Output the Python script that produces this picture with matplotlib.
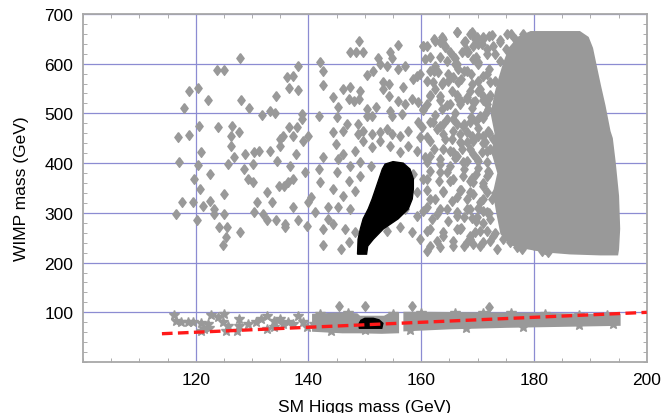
import matplotlib
matplotlib.use('Agg')
import matplotlib.pyplot as plt
from matplotlib.ticker import MultipleLocator
from matplotlib.patches import Polygon

plt.rcParams['font.family'] = ['Liberation Sans', 'DejaVu Sans']

GRAY = '#999999'

# ---- data (SM Higgs mass, WIMP mass) in GeV ----
# scattered heavy-WIMP points (diamonds)
diamonds_left = [
    (116.8,452),(117,402),(118,511),(118.8,545),(118.8,457),(120.4,551),(120.5,475),(120.9,422),
    (120.4,396),(119.7,368),(120.7,348),(122.1,527),(122.6,378),(123.7,587),(123.9,473),(125.1,587),
    (125.1,338),(126.2,455),(126.5,475),(127.8,611),(128,527),(126.2,435),(125.7,398),(126.7,412),
    (127.6,462),(129.4,511),(128.5,388),(129.2,368),(128.8,418),(130.3,422),(130.1,398),(130.1,362),
    (131.2,425),(131.7,497),(133.1,505),(134,501),(134.3,535),(133.1,425),(132.7,342),(134.5,405),
    (135,449),(135.4,455),(135,435),(134.7,354),(135.6,354),(136.3,362),(136.1,573),(136.6,551),
    (137.3,575),(138.2,596),(138.2,547),(136.5,473),(137.3,455),(138,473),(137.7,418),(138.9,499),
    (138.9,489),(139.1,445),(136.8,394),(137.3,368),(139.3,382),(140,455),(141.8,495),(142,603),
    (142.6,585),(142.5,557),(141.8,388),(142,362),(140.4,332),(142.5,412),
    (116.5,298),(117.5,322),(119.6,322),(120.2,286),(121.2,314),(122.6,324),(123.2,308),(123.2,298),
    (125,298),(124.1,271),(125.5,271),(125.3,251),(124.8,235),(127.8,261),(130.4,302),(130.8,322),
    (131.9,298),(132.7,286),(133.6,322),(134.2,286),(135.8,278),(135.9,271),(137.3,312),(138.2,286),
    (139.8,274),(140,322),(141.2,302),(142.5,235),(142.5,267),(143.5,312),(143.4,288),
]
diamonds_mid = [
    (149,646),(147.4,624),(148.5,624),(149.7,624),(152.4,612),(154.5,624),(154.9,612),(155.9,638),
    (152.7,600),(154,596),(155.8,589),(157.2,596),(150.3,577),(151.5,585),(153.3,563),(154.2,559),
    (156.8,553),(159.3,575),(159.8,579),(158.6,569),(160.4,636),(161.1,636),(160.7,610),(161.6,585),
    (163,583),(162.5,646),(163.4,644),(163.9,650),(164.2,636),(166.4,664),(167.8,646),(169,664),
    (169.9,654),(171,650),(165.1,624),(167.3,624),(168.3,624),(164.6,606),(166,600),(162.1,563),
    (163.7,559),(164.8,565),(166.5,589),(168.1,585),(169.2,610),(170.1,604),(171.7,630),(172.7,636),
    (174,644),(175.2,660),(176.6,650),(178,660),(146.2,549),(147.4,553),(144.4,533),(145.3,513),
    (147.1,529),(148,525),(149,529),(149.2,545),(150.3,509),(151.9,513),(154.2,535),(153.3,549),
    (155.9,525),(157.2,519),(158.4,529),(159.5,523),(160.4,509),(161.6,535),(163.4,535),(163.7,509),
    (165.1,519),(166.5,529),(168.1,533),(169.6,525),(171,535),(145.1,493),(146.9,479),(148.8,479),
    (150.4,495),(151.3,495),(154.5,505),(154.9,495),(154,469),(156.6,499),(159.5,483),(160.2,473),
    (162.1,483),(163.4,475),(164.6,489),(166.4,479),(167.4,475),(168.7,483),(170.4,495),(171.9,509),
    (144.4,463),(146.2,465),(148.8,459),(149.7,465),(151.3,459),(152.7,463),(154.9,459),(156.3,455),
    (157.7,465),(159.8,453),(161.6,445),(163.9,459),(165.5,449),(166.9,459),(168.1,443),(169.2,445),
    (171,455),(172.7,449),(144.8,439),(146.2,418),(148.3,425),(149.7,445),(151.3,433),(152.7,445),
    (154.5,435),(156.3,422),(157.7,435),(159.3,425),(161.6,414),(163.9,429),(165.7,422),(167.3,429),
    (169.2,418),(171.7,425),(145.3,408),(147.4,394),(149.2,402),(151,394),(161.1,402),(163.4,398),
    (165.1,394),(167.4,402),(169.9,408),(171.7,402),(145.1,382),(147.1,364),(149.2,374),(158.6,378),
    (161.1,368),(163.4,382),(165.1,364),(167.4,374),(169.2,362),(171.7,374),(144.4,348),(146.2,334),
    (148.3,344),(159.3,342),(161.6,328),(163.9,344),(166.4,332),(168.7,342),(171,328),
]
diamonds_low = [
    (145.3,312),(147.4,308),(144.4,278),(146.5,268),(148.3,262),(145.7,227),(147.1,241),
    (157.2,308),(159.3,294),(161.1,312),(162.8,298),(164.6,308),(166.4,294),(168.1,308),(169.9,292),
    (171.7,302),(154,264),(156.3,272),(158.4,262),(159.8,247),(161.6,268),(163.9,253),(166.4,268),
    (168.7,253),(170.4,264),(172.7,253),(174.5,247),(161.1,223),(163.4,231),(165.7,233),(168.1,241),
    (170.4,233),(173.5,227),(175.8,241),(177,231),(177.9,227),(181.4,223),(182.5,221),
]
diamonds_160_173 = [
    (162.2,650),(163.6,653),(166.3,663),(168.6,660),(169.5,650),(171,653),(172.5,657),(160.4,636),
    (164.2,633),(167.5,643),(169.2,636),(170.7,640),(161.6,613),(163.3,613),(165.7,616),(168.1,623),
    (169.8,613),(171.6,620),(166.3,600),(162.5,596),(162.2,586),(164.8,579),(165.7,573),(167.5,586),
    (168.9,579),(171.6,579),(161,566),(163.9,563),(166.6,563),(170.1,566),(172.2,563),(162.5,549),
    (165.4,546),(168.6,546),(170.4,549),(161.6,536),(163.3,526),(166.3,536),(168.1,529),(171,526),
    (172.2,536),(161,519),(164.5,516),(166.9,519),(169.2,522),(171.6,519),(160.4,506),(162.5,496),
    (165.7,489),(168.9,492),(171.3,499),(161.6,482),(163.9,479),(167.5,479),(169.8,485),(162.8,469),
    (165.7,465),(168.1,462),(170.1,455),(171.9,465),(161,452),(164.2,449),(166.9,442),(169.2,449),
    (171.3,442),(162.2,428),(165.1,425),(168.6,428),(170.7,422),(172.2,428),(160.7,412),(163.3,408),
    (166.3,415),(168.1,405),(170.1,405),(161.6,385),(164.5,382),(167.5,388),(169.8,378),(171.9,385),
    (160.4,368),(163.1,365),(165.7,368),(168.6,365),(171,361),(161,345),(163.9,341),(166.9,345),
    (169.2,338),(171.6,341),(162.5,328),(165.4,324),(168.1,328),(170.4,321),(172.5,328),(160.4,304),
    (163.3,308),(166.3,301),(168.6,308),(171,304),(161.9,288),(164.8,284),(167.5,291),(169.8,284),
    (172.2,288),(161,264),(163.9,261),(166.9,268),(169.5,261),(171.6,264),(162.8,244),(165.7,244),
    (168.6,247),(171,241),(161.6,234),(167.5,234),(169.2,237),(172.2,244),
]
diamonds_dense_edge = [
    (172,655),(174,648),(176,660),(177,640),(175,630),(173,620),(170,640),(168,630),(166,612),
    (170,600),(172,590),(174,605),(176,595),(177,580),(175,570),(173,565),(171,575),(169,560),(167,570),
    (170,545),(172,530),(174,540),(176,550),(177,520),(175,510),(173,500),(171,490),(169,510),(167,525),
    (166,500),(176,490),(170,470),(172,460),(174,475),(176,465),(177,440),(175,430),(173,420),(171,440),
    (169,455),(167,440),(166,410),(176,410),(170,390),(172,380),(174,395),(176,385),(177,360),(175,350),
    (173,340),(171,355),(169,370),(167,345),(176,330),(178,320),(170,310),(172,300),(174,315),(176,305),
    (177,280),(175,270),(173,260),(171,280),(169,290),(167,270),(176,250),(178,240),(180,235),(182,228),
    (179,260),(181,250),
]
diamonds_above_band = [(145.5,112),(150,112),(158.4,112),(172,111)]

# outline of the fully-covered heavy-WIMP region
dense_core_x = [179.5,188,189.3,190,190.5,191.4,192.2,193.1,193.5,194,194.6,194.8,194.6,194.5,
                191.8,186.4,182,179,176,174.5,173.8,173.2,174,173,173.5,172.8,173.5,174.2,175,176,177.5]
dense_core_y = [660,660,650,630,603,555,515,463,449,402,334,268,227,220,
                220,222,226,232,240,260,300,340,380,420,460,500,540,570,600,630,650]

# light-WIMP points (stars)
stars_sparse = [
    (116.1,95),(116.5,82),(117.3,80),(118.6,80),(119.6,80),(120.9,78),(121.4,66),(122.3,68),
    (122.7,95),(123.9,90),(125,97),(124.8,80),(125.8,72),(125.3,62),(127.6,86),(127.6,72),
    (127.4,62),(129.2,76),(130.6,80),(131.5,86),(132.7,93),(133.8,82),(135,86),(135.4,76),
    (136.3,80),(137.3,76),(138.2,93),(139.1,80),(139.8,70),(140.9,76),(142.1,86),(143.4,80),
    (144.4,72),(132.7,66),(133.8,70),(122.1,76),(120.9,62),
    (142,97),(147,98),(155,97),(160,99),(166,99),(171,98),(176,98),(182,97),(188,95),(193,94),
    (144,62),(150,64),(158,65),(168,69),(178,71),(188,74),(194,76),
]
band_a_x = [141,146,148.5,149,153.5,154.5,155.7,155.7,153,149,146,141]
band_a_y = [93,96,94,89,89,95,96,62,61,62,62,65]
band_b_x = [157.2,160,170,180,190,195,195,185,175,165,157.2]
band_b_y = [97,97,96,95,93,92,77,75,73,70,66]

# allowed regions (black)
black_big_x = [148.7,148.8,149.2,149.7,150.6,151.3,151.9,152.5,153.1,153.6,155,156.8,158,158.6,158.6,
               158.4,157.7,155.9,153.3,151.5,150.5,150.3]
black_big_y = [217,247,268,288,308,328,348,368,388,398,403,400,388,368,348,328,308,288,268,247,233,217]
black_small_x = [149,153,153.2,152.5,151.5,150,149.3,149]
black_small_y = [68,68,78,85,88,88,84,78]

# m_WIMP = m_H / 2 line
line_x = [114, 200]
line_y = [57, 100]

# ---- figure ----
fig = plt.figure(figsize=(6.64, 4.14), dpi=100)
ax = fig.add_axes([0.125, 0.123, 0.849, 0.841])
ax.set_xlim(100, 200)
ax.set_ylim(0, 700)

ax.set_xticks([120, 140, 160, 180, 200])
ax.set_yticks([100, 200, 300, 400, 500, 600, 700])
ax.xaxis.set_minor_locator(MultipleLocator(5))
ax.yaxis.set_minor_locator(MultipleLocator(20))
ax.grid(True, which='major', color='#8c8cd2', linewidth=0.9, zorder=0)
ax.set_axisbelow(True)
ax.tick_params(which='both', direction='in', top=True, right=True, color='#a0a0a0',
               labelsize=12.5, pad=7)
ax.tick_params(which='major', length=0)
ax.tick_params(which='minor', length=3)
for s in ax.spines.values():
    s.set_color('#a8a8a8')
    s.set_linewidth(1.3)

diamond = [(0, 1), (0.75, 0), (0, -1), (-0.75, 0), (0, 1)]
mk = dict(marker=diamond, ms=7, color=GRAY, linestyle='none', zorder=2)
for pts in (diamonds_left, diamonds_mid, diamonds_low, diamonds_160_173, diamonds_dense_edge,
            diamonds_above_band):
    xs, ys = zip(*pts)
    ax.plot(xs, ys, **mk)
ax.add_patch(Polygon(list(zip(dense_core_x, dense_core_y)), closed=True, facecolor=GRAY,
                     edgecolor=GRAY, linewidth=4, zorder=2))

xs, ys = zip(*stars_sparse)
ax.plot(xs, ys, marker='*', ms=7.5, color=GRAY, linestyle='none', zorder=2)
for bx, by in ((band_a_x, band_a_y), (band_b_x, band_b_y)):
    ax.add_patch(Polygon(list(zip(bx, by)), closed=True, facecolor=GRAY,
                         edgecolor=GRAY, linewidth=3, zorder=2))

ax.add_patch(Polygon(list(zip(black_big_x, black_big_y)), closed=True, facecolor='black',
                     edgecolor='black', linewidth=1, zorder=3))
ax.add_patch(Polygon(list(zip(black_small_x, black_small_y)), closed=True, facecolor='black',
                     edgecolor='black', linewidth=1, zorder=3))

ax.plot(line_x, line_y, color='#ff1a1a', linestyle=(0, (3.2, 1.6)), linewidth=2.4, zorder=4)

ax.set_xlabel('SM Higgs mass (GeV)', fontsize=12.5, labelpad=9)
ax.set_ylabel('WIMP mass (GeV)', fontsize=12.5, labelpad=11)

fig.savefig('out.png', dpi=100)
